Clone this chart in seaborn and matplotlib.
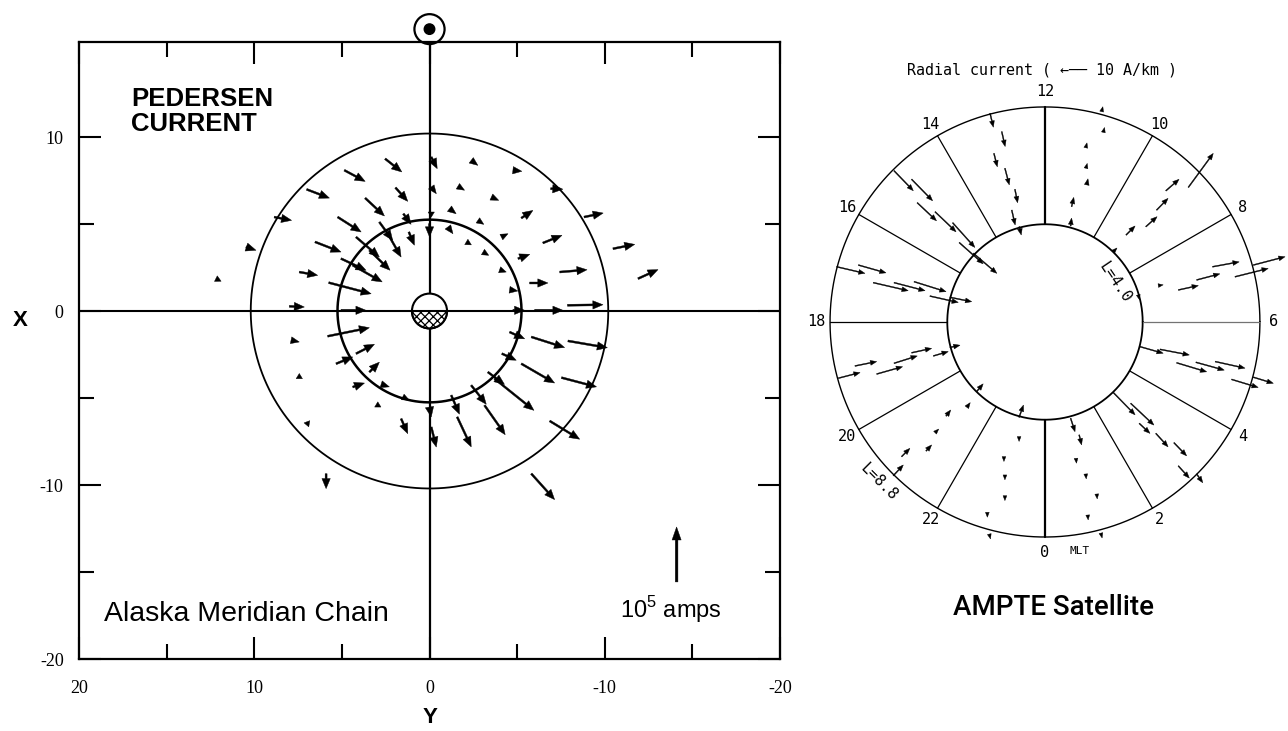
import numpy as np
import matplotlib.pyplot as plt
import matplotlib.patches as mpatches
import seaborn as sns

sns.set_theme(style="ticks")
plt.rcParams['font.family'] = ['Liberation Sans', 'DejaVu Sans']
plt.rcParams['hatch.linewidth'] = 0.9
for k in ['axes.edgecolor', 'text.color', 'axes.labelcolor', 'xtick.color', 'ytick.color']:
    plt.rcParams[k] = 'black'

# ---------------- Alaska Meridian Chain: Pedersen current (Y, X in Re) ----------------
ped_y = [2.53, 4.86, 7.01, 1.94, 3.67, 8.86, 5.24, 1.49, 2.86, 2.38, 1.18, 10.47, 6.53,
         4.19, 3.43, 7.43, 5.05, 4.38, 12.19, 5.75, 8.00, 5.05,
         -0.10, -2.38, -4.76, -6.91, -0.10, -1.62, -3.53, -8.82, -0.10, -1.14, -5.24,
         -2.76, 0.00, -1.05, -6.47, -10.47, -4.10, -2.10, -5.05, -3.05, -11.90, -7.43,
         -4.00, -5.71, -4.57, -7.87, -4.76, -6.00,
         7.90, 5.81, 5.33, 4.19, 3.43, 7.43, 4.38, 2.76, 6.86, 2.95, 1.53, 1.62, 5.90,
         -5.81, -4.57, -7.90, -4.13, -5.24, -7.53, -3.33, -3.71, -2.38, -3.14, -1.24,
         -1.58, 0.00, -0.10, -6.86, -5.81]
ped_x = [8.75, 8.09, 6.99, 7.09, 6.49, 5.40, 5.40, 5.59, 5.11, 4.44, 4.54, 3.68, 3.97,
         4.25, 3.49, 2.24, 3.01, 2.63, 1.86, 1.63, 0.27, 0.04,
         8.85, 8.66, 8.09, 7.03, 7.13, 7.17, 6.55, 5.40, 5.69, 5.88, 5.34,
         5.21, 5.02, 4.83, 3.91, 3.58, 4.25, 3.97, 3.01, 3.39, 1.86, 2.24,
         2.37, 1.61, 1.22, 0.33, 0.04, 0.04,
         -1.68, -1.45, -3.03, -2.45, -3.51, -3.89, -4.37, -4.21, -6.48, -5.52, -4.94, -6.19, -9.35,
         -1.49, -1.21, -1.72, -2.45, -3.03, -3.83, -3.51, -3.89, -4.27, -5.42, -4.84,
         -6.09, -5.52, -6.67, -6.32, -9.35]
ped_dy = [-0.95, -1.19, -1.30, -0.70, -1.10, -0.99, -1.34, -0.44, -0.76, -0.76, -0.32, -0.57, -1.48,
          -1.33, -1.18, -1.05, -1.43, -1.68, -0.30, -2.42, -0.86, -1.43,
          -0.34, -0.38, -0.51, -0.70, -0.29, -0.38, -0.42, -1.09, 0.00, -0.38, -0.66,
          -0.34, 0.00, -0.29, -1.09, -1.24, -0.38, -0.29, -0.67, -0.33, -1.14, -1.56,
          -0.38, -1.05, -0.47, -2.03, -0.67, -1.62,
          -0.47, -2.38, -0.95, -1.05, -0.57, 0.00, -0.67, -0.47, 0.30, 0.00, -0.38, -0.38, 0.00,
          -1.90, -0.86, -2.25, -0.82, -1.90, -2.00, -0.95, -2.25, -0.86, -1.18, -0.47,
          -0.80, -0.10, -0.29, -1.71, -1.33]
ped_dx = [-0.76, -0.64, -0.50, -0.79, -1.03, -0.19, -0.86, -0.61, -1.05, -1.34, -0.76, -0.19, -0.58,
          -1.15, -1.15, -0.19, -0.67, -0.96, -0.15, -0.64, -0.04, 0.00,
          -0.67, -0.29, -0.06, -0.03, -0.39, -0.23, -0.19, 0.23, -0.30, -0.29, 0.44,
          -0.23, -0.76, -0.39, 0.44, 0.25, 0.19, -0.17, 0.25, -0.19, 0.52, 0.13,
          -0.13, 0.00, -0.07, 0.03, 0.00, 0.00,
          -0.10, 0.49, 0.39, 0.54, 0.57, 0.30, 0.23, -0.15, 0.05, 0.30, -0.19, -0.86, -0.86,
          -0.61, -0.39, -0.39, -0.38, -1.11, -0.53, -0.71, -1.82, -1.09, -1.69, -1.09,
          -1.72, -0.57, -1.15, -1.05, -1.49]

ring_radii = [10.2, 5.25]
ref_tail = (-14.1, -15.57)
ref_len = 3.16          # 10^5 amps

x_ticks = [20, 10, 0, -10, -20]
y_ticks = [10, 0, -10, -20]

# ---------------- AMPTE satellite: radial current (L-shell units, 12 MLT up) ----------------
amp_x = [-2.25, -1.77, -2.09, -1.64, -1.23, -1.36, -1.05,
         2.32, 2.39, 1.67, 1.68, 1.71, 1.09, 1.05,
         5.87, 4.95, 4.57, 4.13, 3.32, 2.80,
         7.78, 8.53, 6.86, 6.21, 5.46, 4.64, 3.82,
         -8.53, -7.64, -7.03, -6.18, -5.36, -4.71, -3.89,
         -6.18, -5.46, -5.23, -4.50, -3.78, -3.51, -2.93,
         -8.46, -7.78, -6.89, -6.18, -5.46, -4.57, -3.89,
         -6.21, -5.87, -4.87, -4.50, -4.05, -3.20, -2.80,
         -1.06, -1.06, -1.68, -1.64, -1.64, -2.36, -2.28,
         1.05, 1.40, 1.27, 1.67, 2.12, 1.75, 2.29,
         2.80, 3.51, 3.86, 4.54, 5.28, 5.46, 6.21,
         3.89, 4.71, 5.39, 6.18, 6.97, 7.64, 8.53]
amp_y = [8.54, 7.79, 6.90, 6.29, 5.43, 4.58, 3.90,
         8.61, 7.76, 7.13, 6.29, 5.61, 4.72, 3.93,
         5.51, 5.37, 4.58, 3.90, 3.56, 2.88,
         1.85, 2.33, 2.26, 1.72, 1.31, 1.49, 1.11,
         2.26, 2.33, 1.61, 1.61, 1.65, 1.06, 1.01,
         6.19, 5.84, 4.88, 4.51, 4.06, 3.25, 2.81,
         -2.30, -1.80, -2.13, -1.69, -1.26, -1.39, -1.04,
         -6.29, -5.51, -5.28, -4.53, -3.85, -3.49, -2.85,
         -3.90, -4.69, -5.51, -6.26, -7.11, -7.79, -8.68,
         -3.94, -4.62, -5.58, -6.22, -7.04, -7.90, -8.64,
         -2.89, -3.33, -4.15, -4.56, -4.94, -5.89, -6.22,
         -1.01, -1.12, -1.67, -1.65, -1.62, -2.35, -2.26]
amp_u = [0.14, 0.14, 0.14, 0.18, 0.11, 0.14, 0.08,
         0.05, 0.05, 0.05, 0.05, 0.05, 0.09, 0.04,
         1.02, 0.54, 0.47, 0.46, 0.37, 0.15,
         1.36, 1.30, 1.09, 0.95, 0.82, 0.20, 0.05,
         1.16, 1.13, 1.43, 1.27, 1.31, 1.16, 0.89,
         0.79, 0.86, 0.79, 0.86, 0.91, 0.98, 0.96,
         0.89, 0.89, 1.06, 0.95, 0.82, 0.61, 0.41,
         0.41, 0.34, 0.23, 0.15, 0.19, 0.14, 0.27,
         0.18, 0.00, 0.00, 0.00, 0.00, 0.00, 0.05,
         0.18, 0.10, 0.02, 0.02, 0.02, 0.02, 0.05,
         0.89, 0.95, 0.44, 0.50, 0.52, 0.45, 0.25,
         0.95, 1.20, 1.23, 1.16, 1.22, 1.09, 0.82]
amp_v = [-0.57, -0.61, -0.55, -0.68, -0.55, -0.61, -0.34,
         0.20, 0.20, 0.20, 0.20, 0.25, 0.38, 0.32,
         1.39, 0.47, 0.48, 0.41, 0.37, 0.15,
         0.34, 0.34, 0.20, 0.25, 0.18, 0.03, -0.20,
         -0.27, -0.32, -0.33, -0.33, -0.41, -0.26, -0.18,
         -0.82, -0.88, -0.74, -0.82, -1.01, -0.87, -0.82,
         0.23, 0.18, 0.30, 0.30, 0.18, 0.18, 0.09,
         0.44, 0.34, 0.25, 0.15, 0.25, 0.19, 0.32,
         0.50, -0.20, -0.20, -0.20, -0.20, -0.20, -0.20,
         -0.55, -0.41, -0.20, -0.20, -0.20, -0.20, -0.20,
         -0.91, -0.89, -0.41, -0.55, -0.54, -0.50, -0.36,
         -0.27, -0.23, -0.37, -0.32, -0.27, -0.33, -0.25]

mlt_hours = [0, 2, 4, 6, 8, 10, 12, 14, 16, 18, 20, 22]
l_inner, l_outer = 4.0, 8.8


def draw_arrows(ax, xs, ys, us, vs, width, head_w, head_l):
    for x, y, u, v in zip(xs, ys, us, vs):
        n = np.hypot(u, v)
        hl, hw = head_l, head_w
        if n < head_l:
            # very short vectors: the whole mark is just a small head
            hl = n
            hw = head_w * max(n / head_l, 0.75)
        ax.arrow(x, y, u, v, width=width, head_width=hw, head_length=hl,
                 length_includes_head=True, fc='black', ec='black', lw=0.3, zorder=4)


fig = plt.figure(figsize=(12.88, 7.31), dpi=100)

# ---------------- left panel ----------------
ax = fig.add_axes([79 / 1288, 1 - 659 / 731, 701 / 1288, 617 / 731])
ax.set_xlim(20, -20)
ax.set_ylim(-20, 15.46)

theta = np.linspace(0, 2 * np.pi, 400)
for r, lw in zip(ring_radii, [1.3, 1.8]):
    sns.lineplot(x=r * np.cos(theta), y=r * np.sin(theta), sort=False, estimator=None,
                 color='black', lw=lw, ax=ax)
ax.axhline(0, color='black', lw=1.5)
ax.axvline(0, color='black', lw=1.6)

ax.add_patch(mpatches.Circle((0, 0), 1.0, fc='white', ec='black', lw=1.5, zorder=3))
ax.add_patch(mpatches.Wedge((0, 0), 1.0, 180, 360, fc='white', ec='black', lw=1.5,
                            hatch='xxxx', zorder=3))
# sun direction symbol
ax.add_patch(mpatches.Circle((0, 16.2), 0.86, fill=False, ec='black', lw=1.6, clip_on=False))
ax.add_patch(mpatches.Circle((0, 16.2), 0.3, fc='black', ec='black', clip_on=False))

draw_arrows(ax, ped_y, ped_x, ped_dy, ped_dx, width=0.11, head_w=0.48, head_l=0.58)
draw_arrows(ax, [ref_tail[0]], [ref_tail[1]], [0], [ref_len], width=0.15, head_w=0.52, head_l=0.75)

ax.set_xticks(x_ticks)
ax.set_xticks([15, 5, -5, -15], minor=True)
ax.set_yticks(y_ticks)
ax.set_yticks([5, -5, -15], minor=True)
ax.set_xticklabels([str(t) for t in x_ticks], family='Liberation Serif', fontsize=13)
ax.set_yticklabels([str(t) for t in y_ticks], family='Liberation Serif', fontsize=13)
ax.tick_params(which='both', direction='in', top=True, right=True, width=1.5, color='black')
ax.tick_params(which='major', length=16)
ax.tick_params(which='minor', length=10.5)
ax.tick_params(axis='x', which='major', pad=15)
ax.tick_params(axis='y', which='major', pad=11)
for s in ax.spines.values():
    s.set_linewidth(1.6)

ax.set_xlabel("Y", fontsize=16, fontweight='bold', va='center')
ax.set_ylabel("X", fontsize=16, fontweight='bold', rotation=0, va='center', ha='center')
ax.xaxis.set_label_coords(0.5007, -0.0956)
ax.yaxis.set_label_coords(-0.084, 0.549)

ax.text(17.03, 12.9, "PEDERSEN\nCURRENT", fontsize=18.5, fontweight='bold', ha='left',
        va='top', linespacing=1.1)
ax.text(18.57, -17.41, "Alaska Meridian Chain", fontsize=20.5, ha='left', va='center')
ax.text(-10.86, -17.13, r"10$^{\mathdefault{5}}$ amps", fontsize=17, ha='left', va='center')

# ---------------- right panel ----------------
bx = fig.add_axes([800 / 1288, 31 / 731, 488 / 1288, 660 / 731])
bx.set_xlim(-10.03, 9.95)
bx.set_ylim(-15.47, 11.54)
bx.axis('off')

for r, lw in zip([l_outer, l_inner], [1.0, 1.3]):
    sns.lineplot(x=r * np.cos(theta), y=r * np.sin(theta), sort=False, estimator=None,
                 color='black', lw=lw, ax=bx)
for h in mlt_hours:
    ang = np.radians((h - 6) * 15)
    lw = 1.6 if h in (0, 12) else 0.9
    col = '0.45' if h == 6 else 'black'
    bx.plot([l_inner * np.cos(ang), l_outer * np.cos(ang)],
            [l_inner * np.sin(ang), l_outer * np.sin(ang)], color=col, lw=lw)
    rr = 9.45 if h in (0, 12) else 9.35
    bx.text(rr * np.cos(ang), rr * np.sin(ang), str(h), family='DejaVu Sans Mono',
            fontsize=11, ha='center', va='center')
bx.text(1.02, -9.37, "MLT", family='DejaVu Sans Mono', fontsize=8, ha='left', va='center')

draw_arrows(bx, amp_x, amp_y, amp_u, amp_v, width=0.04, head_w=0.2, head_l=0.26)

bx.text(-0.12, 10.31, "Radial current ( \u2190\u2500\u2500 10 A/km )", family='DejaVu Sans Mono',
        fontsize=10.8, ha='center', va='center')
bx.text(2.87, 1.60, "L=4.0", family='DejaVu Sans Mono', fontsize=11, rotation=-56,
        ha='center', va='center')
bx.text(-6.80, -6.55, "L=8.8", family='DejaVu Sans Mono', fontsize=11, rotation=-45,
        ha='center', va='center')
bx.text(0.33, -11.67, "AMPTE Satellite", family=['Roboto', 'Liberation Sans'],
        fontweight='medium', fontsize=20, ha='center', va='center')

fig.savefig("out.png", dpi=100)
